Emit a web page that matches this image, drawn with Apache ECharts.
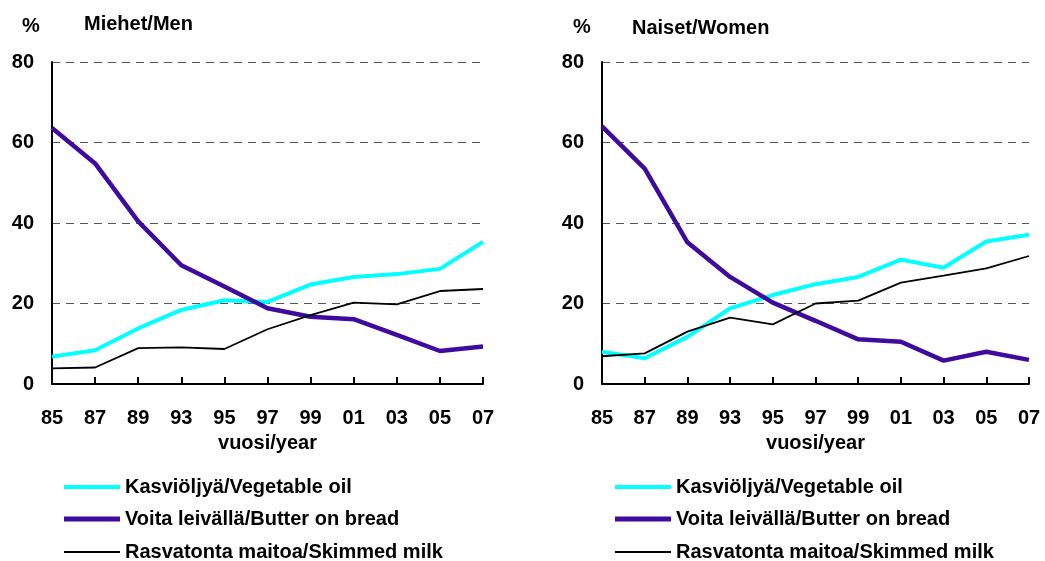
<!DOCTYPE html>
<html>
<head>
<meta charset="utf-8">
<script src="https://cdn.jsdelivr.net/npm/echarts@6/dist/echarts.min.js"></script>
<style>
  html, body { margin: 0; padding: 0; background: #fff; }
  #chart { width: 1045px; height: 561px; }
</style>
</head>
<body>
<div id="chart"></div>
<script>
// vuodet / years
let years = ['85', '87', '89', '93', '95', '97', '99', '01', '03', '05', '07'];
let yTicks = [0, 20, 40, 60, 80];

// Miehet / Men
let menOil    = [6.8, 8.4, 13.8, 18.4, 20.8, 20.4, 24.7, 26.6, 27.3, 28.6, 35.3];
let menButter = [63.6, 54.8, 40.4, 29.5, 24.2, 18.8, 16.7, 16.1, 12.2, 8.2, 9.3];
let menMilk   = [3.9, 4.1, 8.9, 9.1, 8.7, 13.6, 17.1, 20.2, 19.8, 23.1, 23.6];

// Naiset / Women
let womenOil    = [8.0, 6.4, 11.7, 18.8, 22.1, 24.8, 26.6, 30.9, 28.9, 35.4, 37.1];
let womenButter = [64.0, 53.5, 35.2, 26.6, 20.2, 15.7, 11.1, 10.5, 5.8, 8.0, 6.0];
let womenMilk   = [6.9, 7.6, 13.0, 16.5, 14.8, 20.0, 20.7, 25.2, 26.9, 28.7, 31.8];

let nameOil = 'Kasviöljyä/Vegetable oil';
let nameButter = 'Voita leivällä/Butter on bread';
let nameMilk = 'Rasvatonta maitoa/Skimmed milk';

const FONT = '"Liberation Sans", Arial, sans-serif';
const CYAN = '#00FFFF';
const PURPLE = '#3F0A9E';

var myChart = echarts.init(document.getElementById('chart'));

function boldText(size) {
    return { fontFamily: FONT, fontWeight: 'bold', fontSize: size, color: '#000' };
}

function xAxisFor(idx) {
    return {
        type: 'category',
        gridIndex: idx,
        data: years,
        boundaryGap: false,
        name: 'vuosi/year',
        nameLocation: 'middle',
        nameGap: 49,
        nameTextStyle: boldText(20),
        axisLine: { lineStyle: { color: '#000', width: 2 } },
        axisTick: { show: true, inside: true, length: 7, lineStyle: { color: '#000', width: 2 } },
        axisLabel: Object.assign({ margin: 24 }, boldText(20)),
        splitLine: { show: false }
    };
}

function yAxisFor(idx) {
    return {
        type: 'value',
        gridIndex: idx,
        min: yTicks[0],
        max: yTicks[yTicks.length - 1],
        interval: 20,
        axisLine: { show: true, lineStyle: { color: '#000', width: 2 } },
        axisTick: { show: false },
        axisLabel: Object.assign({ margin: 18 }, boldText(20)),
        splitLine: { lineStyle: { color: '#555', type: [8, 6], width: 1 } }
    };
}

function lineSeries(name, data, idx, color, width) {
    return {
        name: name,
        type: 'line',
        xAxisIndex: idx,
        yAxisIndex: idx,
        data: data,
        symbol: 'none',
        lineStyle: { color: color, width: width },
        itemStyle: { color: color },
        z: width > 2 ? 3 : 4
    };
}

// one legend row per series, so each key line gets its own thickness
function legendRow(name, left, center, thick, color) {
    return {
        left: left,
        top: center - 8,
        padding: 0,
        itemWidth: 56,
        itemHeight: thick,
        icon: 'rect',
        selectedMode: false,
        textStyle: boldText(20),
        itemStyle: { color: color },
        data: [name]
    };
}

option = {
    animation: false,
    textStyle: { fontFamily: FONT },
    title: [
        { text: '%', left: 17, top: 11, textStyle: boldText(20) },
        { text: 'Miehet/Men', left: 79, top: 9, textStyle: boldText(20) },
        { text: '%', left: 568, top: 12, textStyle: boldText(20) },
        { text: 'Naiset/Women', left: 627, top: 13, textStyle: boldText(20) }
    ],
    grid: [
        { left: 52, top: 62, width: 431, height: 322 },
        { left: 602, top: 62, width: 427, height: 322 }
    ],
    xAxis: [xAxisFor(0), xAxisFor(1)],
    yAxis: [yAxisFor(0), yAxisFor(1)],
    legend: [
        legendRow(nameOil, 64, 485, 4, CYAN),
        legendRow(nameButter, 64, 517, 5, PURPLE),
        legendRow(nameMilk, 64, 550, 2, '#000'),
        legendRow(nameOil, 615, 485, 4, CYAN),
        legendRow(nameButter, 615, 517, 5, PURPLE),
        legendRow(nameMilk, 615, 550, 2, '#000')
    ],
    series: [
        lineSeries(nameOil, menOil, 0, CYAN, 4),
        lineSeries(nameButter, menButter, 0, PURPLE, 4.5),
        lineSeries(nameMilk, menMilk, 0, '#000', 1.8),
        lineSeries(nameOil, womenOil, 1, CYAN, 4),
        lineSeries(nameButter, womenButter, 1, PURPLE, 4.5),
        lineSeries(nameMilk, womenMilk, 1, '#000', 1.8)
    ]
};

myChart.setOption(option);
</script>
</body>
</html>
